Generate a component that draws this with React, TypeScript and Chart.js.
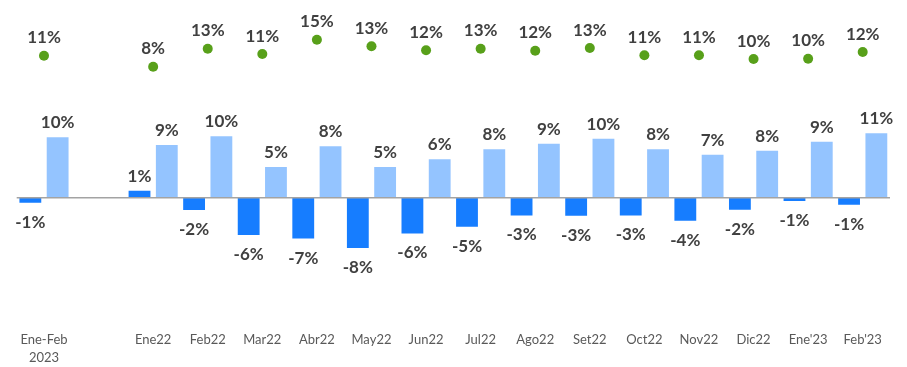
import React, { useEffect, useRef } from "react";
import { Chart, registerables } from "chart.js";

Chart.register(...registerables);

const categories: (string | string[])[] = [
  ["Ene-Feb", "2023"], "", "Ene22", "Feb22", "Mar22", "Abr22", "May22", "Jun22",
  "Jul22", "Ago22", "Set22", "Oct22", "Nov22", "Dic22", "Ene'23", "Feb'23",
];

const darkSeries: (number | null)[] = [
  -0.82, null, 1.15, -2.0, -6.1, -6.7, -8.25, -5.85, -4.75, -2.9, -2.95, -2.9, -3.77, -1.97, -0.55, -1.15,
];

const lightSeries: (number | null)[] = [
  9.9, null, 8.64, 10.07, 5.03, 8.45, 5.03, 6.3, 7.93, 8.85, 9.67, 7.93, 7.05, 7.7, 9.18, 10.56,
];

const greenSeries: (number | null)[] = [
  10.85, null, 8.0, 12.67, 11.3, 15.0, 13.29, 12.25, 12.67, 12.15, 12.85, 10.96, 10.96, 10.0, 10.08, 11.81,
];

const DARK = "#167dff";
const LIGHT = "#94c4ff";
const GREEN = "#58a01a";
const TEXT = "#404040";

const labelPlugin = {
  id: "valueLabels",
  afterDatasetsDraw(chart: any) {
    const ctx = chart.ctx;
    const area = chart.chartArea;
    const y0 = chart.scales.y.getPixelForValue(0);
    ctx.save();
    ctx.strokeStyle = "#a3a3a3";
    ctx.lineWidth = 1.5;
    ctx.beginPath();
    ctx.moveTo(area.left, y0);
    ctx.lineTo(area.right, y0);
    ctx.stroke();

    ctx.font = "bold 17px Lato";
    ctx.fillStyle = TEXT;
    ctx.textAlign = "center";
    ctx.textBaseline = "alphabetic";
    chart.data.datasets.forEach((ds: any, i: number) => {
      const meta = chart.getDatasetMeta(i);
      meta.data.forEach((el: any, j: number) => {
        const v = ds.data[j];
        if (v == null) return;
        const { x, y } = el.getProps(["x", "y"], true);
        let ty: number;
        if (ds.type === "line") ty = y - 12.4;
        else if (v >= 0) ty = y - 9;
        else ty = y + 25;
        ctx.fillText(Math.round(v) + "%", x, ty);
      });
    });
    ctx.restore();
  },
};

export default function App() {
  const ref = useRef<HTMLCanvasElement | null>(null);

  useEffect(() => {
    if (!ref.current) return;
    const chart = new Chart(ref.current, {
      type: "bar",
      data: {
        labels: categories,
        datasets: [
          {
            type: "line",
            label: "Green",
            data: greenSeries,
            yAxisID: "y2",
            showLine: false,
            pointRadius: 5,
            pointHoverRadius: 5,
            pointBackgroundColor: GREEN,
            pointBorderColor: GREEN,
            pointBorderWidth: 0,
            order: 0,
          } as any,
          {
            type: "bar",
            label: "Dark",
            data: darkSeries,
            backgroundColor: DARK,
            yAxisID: "y",
            order: 1,
          },
          {
            type: "bar",
            label: "Light",
            data: lightSeries,
            backgroundColor: LIGHT,
            yAxisID: "y",
            order: 1,
          },
        ],
      },
      options: {
        responsive: false,
        animation: false,
        layout: { padding: { left: 16.7, right: 17, top: 10, bottom: 0 } },
        datasets: {
          bar: { categoryPercentage: 1.0, barPercentage: 0.8 },
        },
        plugins: {
          legend: { display: false },
          tooltip: { enabled: false },
        },
        scales: {
          x: {
            grid: { display: false, drawTicks: false },
            border: { display: false },
            afterFit: (scale: any) => {
              scale.height = 39;
            },
            ticks: {
              color: "#595959",
              font: { family: "Lato", size: 13, lineHeight: 1.35 },
              padding: 3,
              maxRotation: 0,
              autoSkip: false,
            },
          },
          y: {
            display: false,
            min: -21.36,
            max: 30.77,
          },
          y2: {
            display: false,
            min: -59.69,
            max: 22.69,
          },
        },
      },
      plugins: [labelPlugin],
    });
    return () => chart.destroy();
  }, []);

  return (
    <div style={{ position: "absolute", left: 0, top: 0, width: 907, height: 367, background: "#fff" }}>
      <canvas ref={ref} width={907} height={367} style={{ display: "block" }} />
    </div>
  );
}
